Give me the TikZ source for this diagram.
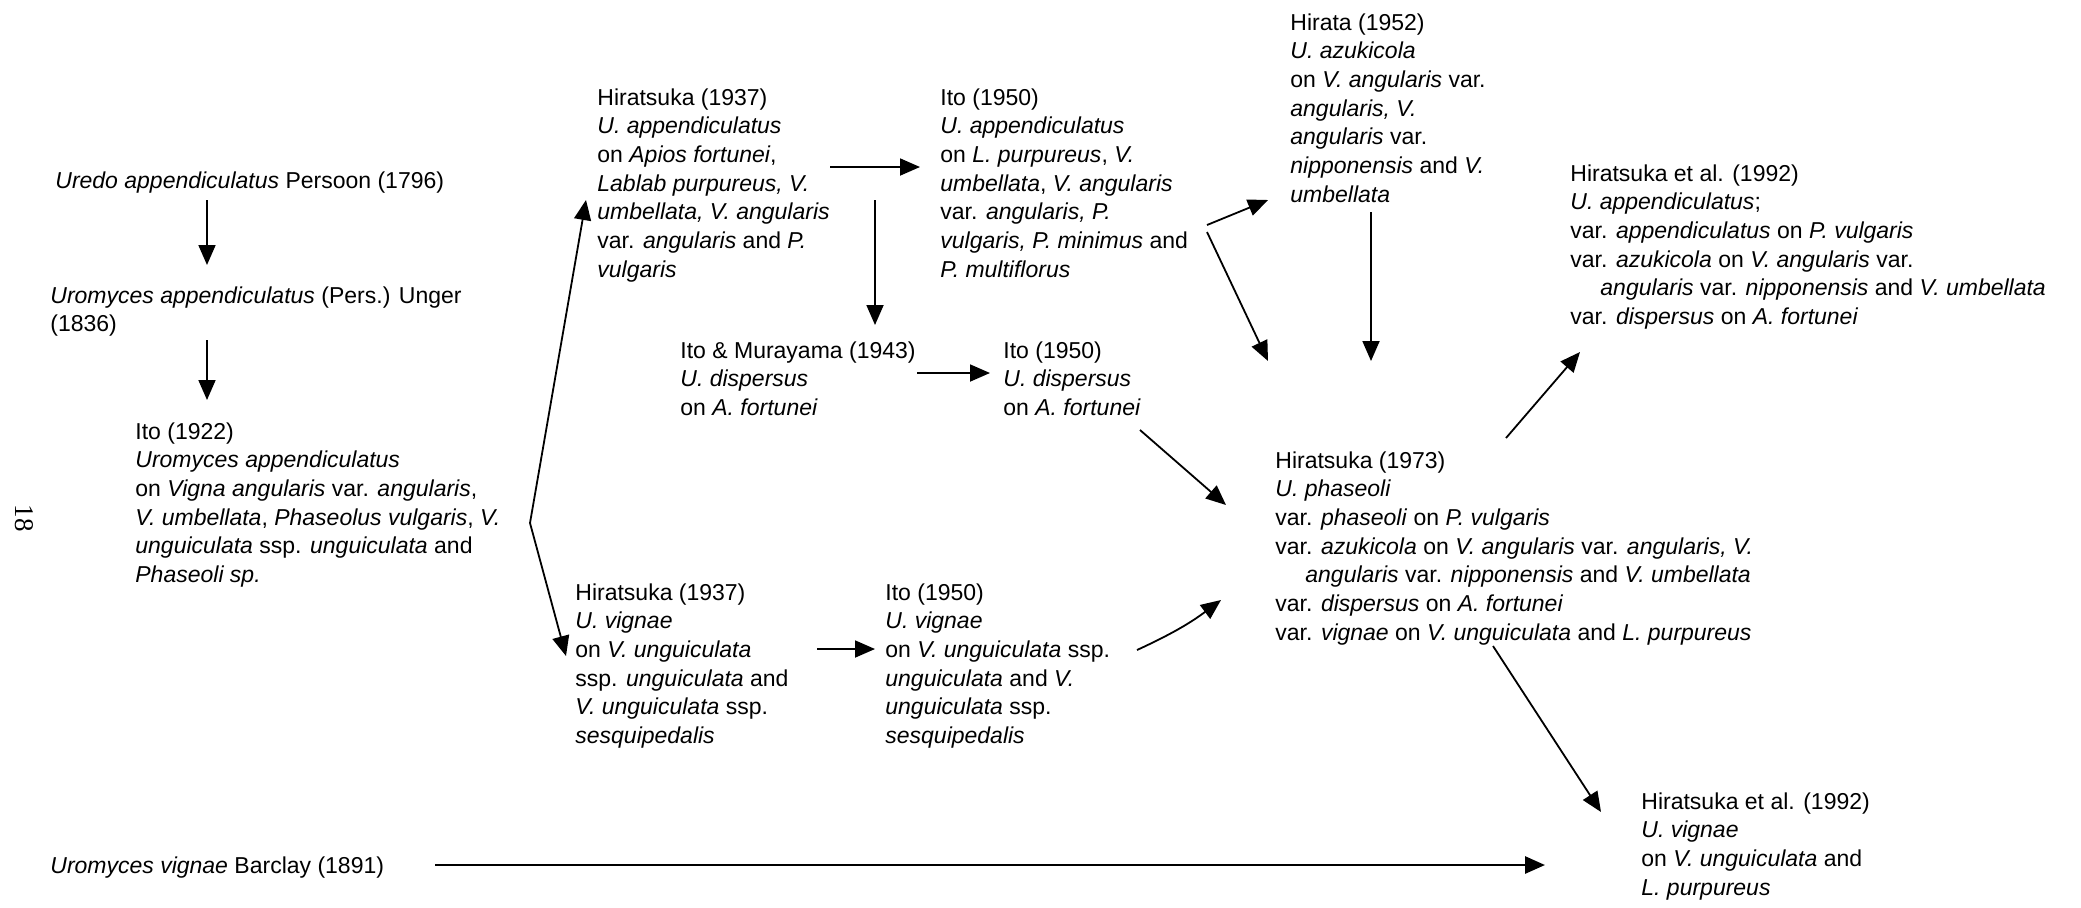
\documentclass[tikz,border=0pt]{standalone}
\usepackage{fontspec}
\setmainfont{Liberation Sans}
\newfontfamily\pgnumfont{Liberation Serif}
\usetikzlibrary{arrows.meta,calc}
\begin{document}
\begin{tikzpicture}[x=0.5pt,y=-0.5pt,
  txt/.style={anchor=north west,inner sep=0pt,align=left,font=\fontsize{11.5}{14.35}\selectfont},
  arr/.style={line width=0.9pt,-{Triangle[length=10pt,width=8.5pt]}},
  thickarr/.style={line width=1.4pt,-{Triangle[length=10pt,width=8.5pt]}}
]
\fill[white] (0,0) rectangle (2081,907);
\useasboundingbox (0,0) rectangle (2081,907);

% nodes
\node[txt] (uredo) at (55,171) {\textit{Uredo appendiculatus} Persoon (1796)};
\node[txt] (uromyces) at (50,286) {\textit{Uromyces appendiculatus} (Pers.) Unger\\(1836)};
\node[txt] (ito22) at (135,422) {Ito (1922)\\\textit{Uromyces appendiculatus}\\on \textit{Vigna angularis} var. \textit{angularis},\\\textit{V. umbellata}, \textit{Phaseolus vulgaris}, \textit{V.}\\\textit{unguiculata} ssp. \textit{unguiculata} and\\\textit{Phaseoli sp.}};
\node[anchor=center,inner sep=0pt,rotate=-90,font=\pgnumfont\fontsize{13.5}{16}\selectfont] (pagenum) at (24,518) {18};

\node[txt] (hir37a) at (597,88) {Hiratsuka (1937)\\\textit{U. appendiculatus}\\on \textit{Apios fortunei},\\\textit{Lablab purpureus, V.}\\\textit{umbellata, V. angularis}\\var. \textit{angularis} and \textit{P.}\\\textit{vulgaris}};
\node[txt] (ito50a) at (940,88) {Ito (1950)\\\textit{U. appendiculatus}\\on \textit{L. purpureus}, \textit{V.}\\\textit{umbellata}, \textit{V. angularis}\\var. \textit{angularis, P.}\\\textit{vulgaris, P. minimus} and\\\textit{P. multiflorus}};
\node[txt] (hirata) at (1290,13) {Hirata (1952)\\\textit{U. azukicola}\\on \textit{V. angularis} var.\\\textit{angularis, V.}\\\textit{angularis} var.\\\textit{nipponensis} and \textit{V.}\\\textit{umbellata}};
\node[txt] (hir92a) at (1570,164) {Hiratsuka et al. (1992)\\\textit{U. appendiculatus};\\var. \textit{appendiculatus} on \textit{P. vulgaris}\\var. \textit{azukicola} on \textit{V. angularis} var.\\\hspace*{15pt}\textit{angularis} var. \textit{nipponensis} and \textit{V. umbellata}\\var. \textit{dispersus} on \textit{A. fortunei}};

\node[txt] (itomur) at (680,341) {Ito \& Murayama (1943)\\\textit{U. dispersus}\\on \textit{A. fortunei}};
\node[txt] (ito50d) at (1003,341) {Ito (1950)\\\textit{U. dispersus}\\on \textit{A. fortunei}};

\node[txt] (hir73) at (1275,451) {Hiratsuka (1973)\\\textit{U. phaseoli}\\var. \textit{phaseoli} on \textit{P. vulgaris}\\var. \textit{azukicola} on \textit{V. angularis} var. \textit{angularis, V.}\\\hspace*{15pt}\textit{angularis} var. \textit{nipponensis} and \textit{V. umbellata}\\var. \textit{dispersus} on \textit{A. fortunei}\\var. \textit{vignae} on \textit{V. unguiculata} and \textit{L. purpureus}};

\node[txt] (hir37v) at (575,583) {Hiratsuka (1937)\\\textit{U. vignae}\\on \textit{V. unguiculata}\\ssp. \textit{unguiculata} and\\\textit{V. unguiculata} ssp.\\\textit{sesquipedalis}};
\node[txt] (ito50v) at (885,583) {Ito (1950)\\\textit{U. vignae}\\on \textit{V. unguiculata} ssp.\\\textit{unguiculata} and \textit{V.}\\\textit{unguiculata} ssp.\\\textit{sesquipedalis}};

\node[txt] (hir92v) at (1641,792) {Hiratsuka et al. (1992)\\\textit{U. vignae}\\on \textit{V. unguiculata} and\\\textit{L. purpureus}};
\node[txt] (uvignae) at (50,856) {\textit{Uromyces vignae} Barclay (1891)};

% connectors
\draw[arr] ($(uredo.north west)+(152,29)$) -- ($(uromyces.north west)+(157,-21)$);
\draw[arr] ($(uromyces.north west)+(157,54)$) -- ($(ito22.north west)+(72,-22)$);
\coordinate (fork) at ($(ito22.north west)+(395,101)$);
\draw[arr] (fork) -- ($(hir37a.north west)+(-11,112)$);
\draw[arr] (fork) -- ($(hir37v.north west)+(-9,73)$);
\draw[arr] ($(hir37a.north west)+(233,79)$) -- ($(ito50a.north west)+(-20,79)$);
\draw[arr] ($(hir37a.north west)+(278,112)$) -- ($(itomur.north west)+(195,-16)$);
\draw[arr] ($(itomur.north west)+(237,32)$) -- ($(ito50d.north west)+(-13,32)$);
\draw[arr] ($(ito50d.north west)+(137,89)$) -- ($(hir73.north west)+(-49,54)$);
\draw[arr] ($(ito50a.north west)+(267,137)$) -- ($(hirata.north west)+(-22,187)$);
\draw[arr] ($(ito50a.north west)+(267,144)$) -- ($(hir73.north west)+(-7,-90)$);
\draw[arr] ($(hirata.north west)+(81,199)$) -- ($(hir73.north west)+(96,-90)$);
\draw[arr] ($(hir73.north west)+(231,-13)$) -- ($(hir92a.north west)+(10,188)$);
\draw[arr] ($(hir73.north west)+(218,195)$) -- ($(hir92v.north west)+(-40,20)$);
\draw[arr] ($(hir37v.north west)+(242,66)$) -- ($(ito50v.north west)+(-10,66)$);
\draw[arr] ($(ito50v.north west)+(252,67)$) to[bend right=6] ($(hir73.north west)+(-54,149)$);
\draw[thickarr] ($(uvignae.north west)+(385,9)$) -- ($(hir92v.north west)+(-96,73)$);
\end{tikzpicture}
\end{document}
